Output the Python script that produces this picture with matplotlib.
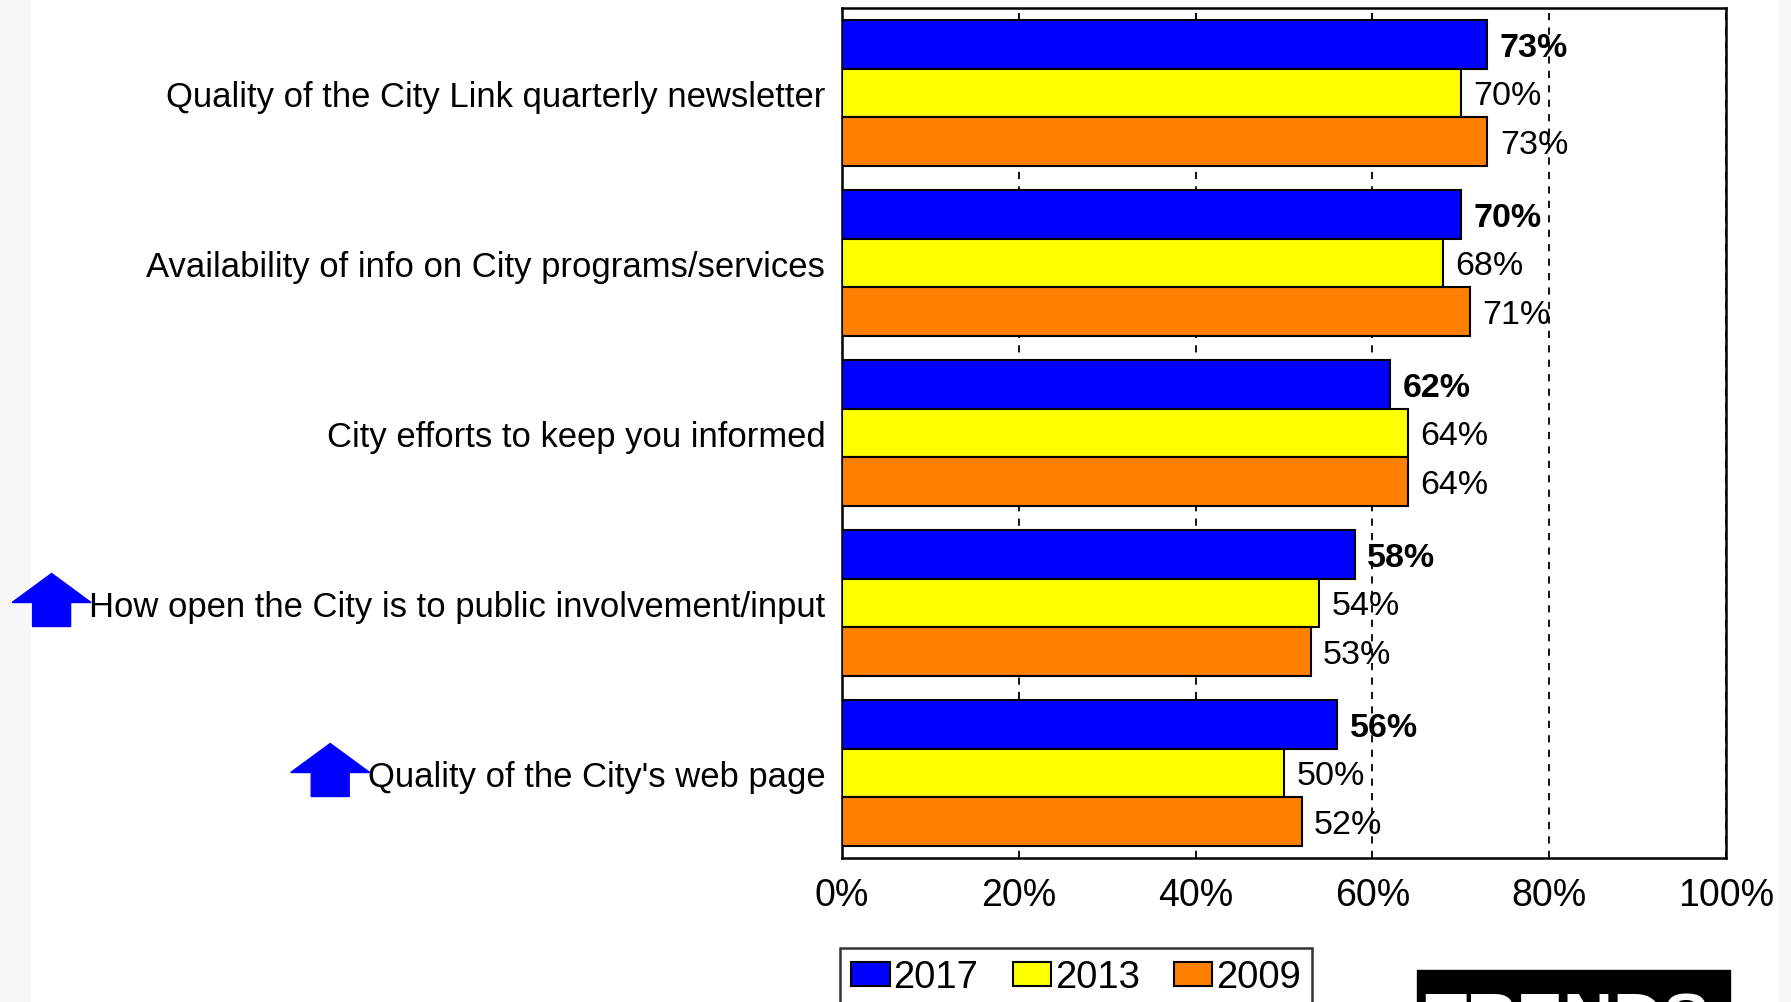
import matplotlib.pyplot as plt
from matplotlib.patches import Rectangle, Polygon

plt.rcParams['font.family'] = ['Liberation Sans', 'DejaVu Sans']

# Datos
categorias = [
    'Quality of the City Link quarterly newsletter',
    'Availability of info on City programs/services',
    'City efforts to keep you informed',
    'How open the City is to public involvement/input',
    "Quality of the City's web page",
]
anios = ['2017', '2013', '2009']
v2017 = [73, 70, 62, 58, 56]
v2013 = [70, 68, 64, 54, 50]
v2009 = [73, 71, 64, 53, 52]
con_flecha = [3, 4]   # categorias con mejora significativa
xticks = [0, 20, 40, 60, 80, 100]

colores = ['#0000ff', '#ffff00', '#ff8000']
W, H = 1791, 1003
fig = plt.figure(figsize=(W / 100, H / 100), dpi=100)
ax = fig.add_axes([842 / W, 1 - 859 / H, (1726 - 842) / W, (859 - 9) / H])

h = 0.286
for k, (serie, col) in enumerate(zip([v2017, v2013, v2009], colores)):
    ys = [i + (k - 1) * h for i in range(len(categorias))]
    ax.barh(ys, serie, height=h, color=col, edgecolor='black', linewidth=1.5,
            label=anios[k], zorder=3)
    for y, v in zip(ys, serie):
        ax.annotate(f'{v}%', (v, y), xytext=(9, -2), textcoords='offset points',
                    va='center', ha='left', fontsize=24.5,
                    fontweight='bold' if k == 0 else 'normal', zorder=4)

ax.set_xlim(0, 100)
ax.set_ylim(len(categorias) - 0.5, -0.5)
ax.set_xticks(xticks, [f'{t}%' for t in xticks], fontsize=27)
ax.set_yticks(range(len(categorias)), categorias, fontsize=24.9)
ax.tick_params(length=0)
ax.tick_params(axis='x', pad=14)
ax.tick_params(axis='y', pad=12)
ax.xaxis.grid(True, color='black', linestyle=(0, (4, 4)), linewidth=1.3, zorder=1)
ax.set_axisbelow(True)
for s in ax.spines.values():
    s.set_linewidth(1.8)

leg = fig.legend(loc='upper left', bbox_to_anchor=(840 / W, 1 - 949 / H), ncol=3,
                 fontsize=27.5, frameon=True, fancybox=False, edgecolor='black',
                 handlelength=1.0, handleheight=0.6, handletextpad=0.1,
                 columnspacing=0.9, borderpad=0.3, borderaxespad=0)
leg.get_frame().set_linewidth(1.8)

# franjas laterales
fig.patches.append(Rectangle((0, 0), 30 / W, 1, transform=fig.transFigure,
                             color='#f7f7f7', zorder=0))
fig.patches.append(Rectangle((1778 / W, 0), 13 / W, 1, transform=fig.transFigure,
                             color='#f7f7f7', zorder=0))

# logo TRENDS cortado abajo
fig.patches.append(Rectangle((1417 / W, 0), 313 / W, 1 - 971 / H,
                             transform=fig.transFigure, color='black', zorder=5))
fig.text(1567 / W, 1 - 991 / H, 'TRENDS', color='white', fontsize=50,
         fontweight='bold', ha='center', va='top', zorder=6)

# flechas azules junto a las etiquetas
fig.canvas.draw()
etiquetas = ax.get_yticklabels()
for i in con_flecha:
    bb = etiquetas[i].get_window_extent()
    xr = bb.x0 + 2
    yc = (bb.y0 + bb.y1) / 2
    xc = xr - 39.5
    pts = [(xc - 39.5, yc + 4), (xc, yc + 33), (xc + 39.5, yc + 4),
           (xc + 19, yc + 4), (xc + 19, yc - 20), (xc - 19, yc - 20),
           (xc - 19, yc + 4)]
    pts = [(x / W, y / H) for x, y in pts]
    fig.patches.append(Polygon(pts, closed=True, transform=fig.transFigure,
                               color='#0000ff', zorder=5))

fig.savefig('out.png', dpi=100)
